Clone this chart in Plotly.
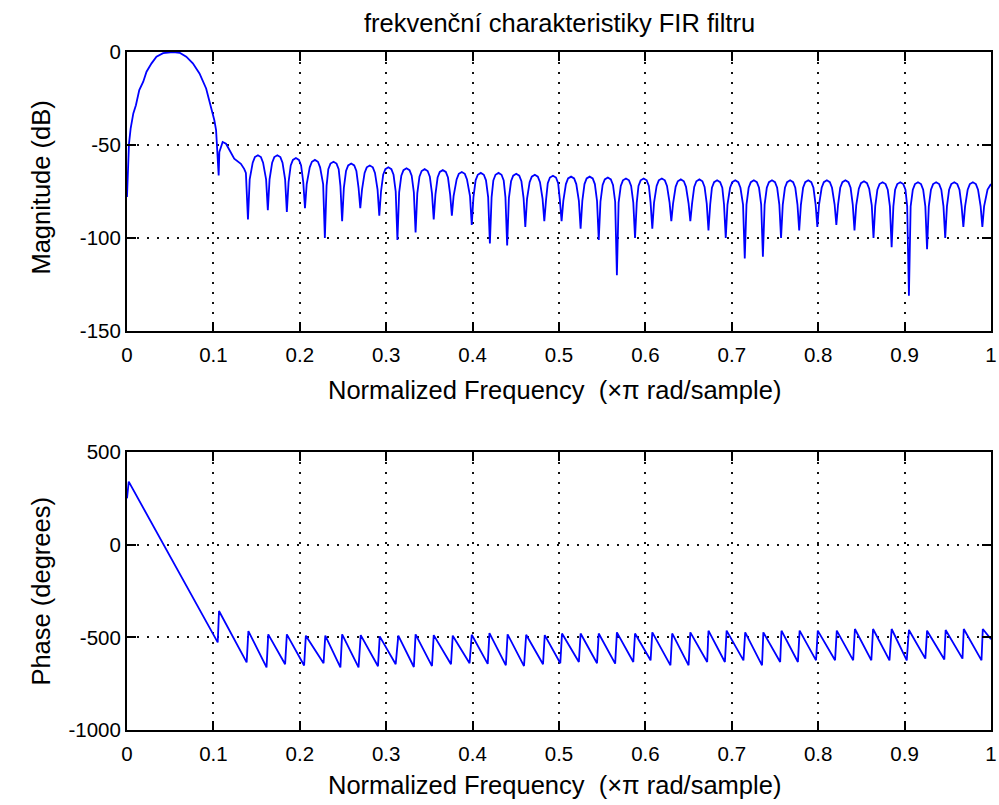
import plotly.graph_objects as go

# ---------------- data ----------------
x_ticks = [0, 0.1, 0.2, 0.3, 0.4, 0.5, 0.6, 0.7, 0.8, 0.9, 1]
x_tick_labels = ["0", "0.1", "0.2", "0.3", "0.4", "0.5", "0.6", "0.7", "0.8", "0.9", "1"]
mag_ticks = [-150, -100, -50, 0]
mag_tick_labels = ["-150", "-100", "-50", "0"]
phase_ticks = [-1000, -500, 0, 500]
phase_tick_labels = ["-1000", "-500", "0", "500"]

title_text = "frekvenční charakteristiky FIR filtru"
x_title = "Normalized Frequency  (\u00d7\u03c0 rad/sample)"
mag_title = "Magnitude (dB)"
phase_title = "Phase (degrees)"

# magnitude response (normalized frequency, dB)
mag_freq = [
    0.0, 0.0023, 0.0042, 0.0073, 0.0103, 0.0142, 0.0188, 0.0226, 0.0284, 0.0341, 0.0418,
    0.0533, 0.0609, 0.0686, 0.0762, 0.0839, 0.0916, 0.0973, 0.1011, 0.1031, 0.1042, 0.1061,
    0.1069, 0.1107, 0.1146, 0.1203, 0.1241, 0.1318, 0.1356, 0.1376,
    0.140, 0.142, 0.1455, 0.148, 0.1515, 0.155, 0.1575, 0.161,
    0.163, 0.165, 0.168, 0.1705, 0.174, 0.1775, 0.180, 0.183,
    0.185, 0.187, 0.1895, 0.192, 0.1955, 0.199, 0.2015, 0.204,
    0.206, 0.208, 0.2115, 0.214, 0.2175, 0.221, 0.2235, 0.227,
    0.229, 0.231, 0.233, 0.2355, 0.239, 0.2425, 0.245, 0.247,
    0.249, 0.251, 0.2535, 0.256, 0.2595, 0.263, 0.2655, 0.268,
    0.270, 0.272, 0.275, 0.2775, 0.281, 0.2845, 0.287, 0.290,
    0.292, 0.294, 0.2965, 0.299, 0.3025, 0.306, 0.3085, 0.311,
    0.313, 0.315, 0.3175, 0.320, 0.3235, 0.327, 0.3295, 0.332,
    0.334, 0.336, 0.3385, 0.341, 0.3445, 0.348, 0.3505, 0.353,
    0.355, 0.357, 0.3595, 0.362, 0.3655, 0.369, 0.3715, 0.374,
    0.376, 0.378, 0.3815, 0.384, 0.3875, 0.391, 0.3935, 0.397,
    0.399, 0.401, 0.4035, 0.406, 0.4095, 0.413, 0.4155, 0.418,
    0.420, 0.422, 0.424, 0.4265, 0.430, 0.4335, 0.436, 0.438,
    0.440, 0.442, 0.4445, 0.447, 0.4505, 0.454, 0.4565, 0.459,
    0.461, 0.463, 0.466, 0.4685, 0.472, 0.4755, 0.478, 0.481,
    0.483, 0.485, 0.487, 0.4895, 0.493, 0.4965, 0.499, 0.501,
    0.503, 0.505, 0.508, 0.5105, 0.514, 0.5175, 0.520, 0.523,
    0.525, 0.527, 0.5295, 0.532, 0.5355, 0.539, 0.5415, 0.544,
    0.546, 0.548, 0.5505, 0.553, 0.5565, 0.560, 0.5625, 0.565,
    0.567, 0.569, 0.5715, 0.574, 0.5775, 0.581, 0.5835, 0.586,
    0.588, 0.590, 0.592, 0.5945, 0.598, 0.6015, 0.604, 0.606,
    0.608, 0.610, 0.613, 0.6155, 0.619, 0.6225, 0.625, 0.628,
    0.630, 0.632, 0.635, 0.6375, 0.641, 0.6445, 0.647, 0.650,
    0.652, 0.654, 0.6565, 0.659, 0.6625, 0.666, 0.6685, 0.671,
    0.673, 0.675, 0.677, 0.6795, 0.683, 0.6865, 0.689, 0.691,
    0.693, 0.695, 0.698, 0.7005, 0.704, 0.7075, 0.710, 0.713,
    0.715, 0.717, 0.7195, 0.722, 0.7255, 0.729, 0.7315, 0.734,
    0.736, 0.738, 0.7405, 0.743, 0.7465, 0.750, 0.7525, 0.755,
    0.757, 0.759, 0.7615, 0.764, 0.7675, 0.771, 0.7735, 0.776,
    0.778, 0.780, 0.7825, 0.785, 0.7885, 0.792, 0.7945, 0.797,
    0.799, 0.801, 0.804, 0.8065, 0.810, 0.8135, 0.816, 0.819,
    0.821, 0.823, 0.8255, 0.828, 0.8315, 0.835, 0.8375, 0.840,
    0.842, 0.844, 0.847, 0.8495, 0.853, 0.8565, 0.859, 0.862,
    0.864, 0.866, 0.8685, 0.871, 0.8745, 0.878, 0.8805, 0.883,
    0.885, 0.887, 0.889, 0.8915, 0.895, 0.8985, 0.901, 0.903,
    0.905, 0.907, 0.9095, 0.912, 0.9155, 0.919, 0.9215, 0.924,
    0.926, 0.928, 0.9305, 0.933, 0.9365, 0.940, 0.9425, 0.945,
    0.947, 0.949, 0.9515, 0.954, 0.9575, 0.961, 0.9635, 0.966,
    0.968, 0.970, 0.973, 0.9755, 0.979, 0.9825, 0.985, 0.988,
    0.990, 0.992, 0.996, 1.0,
]
mag_db = [
    -78, -49.3, -41.2, -33, -28.6, -20.5, -16, -10.6, -6.1, -2.5, -0.6,
    0, -0.4, -2.5, -6.1, -11.5, -19.6, -29.5, -36.7, -42, -53.8, -66.4,
    -53.8, -48.4, -49.3, -54.7, -57.4, -60.1, -62.8, -65,
    -90, -68.5, -59.5, -56.5, -55.5, -56.5, -59.5, -68.5,
    -85, -68.5, -59.5, -56.5, -55.5, -56.5, -59.5, -68.5,
    -86, -70, -61, -58, -57, -58, -61, -70,
    -84, -71, -62, -59, -58, -59, -62, -71,
    -100, -72, -63, -60, -59, -60, -63, -72,
    -91, -73, -64, -61, -60, -61, -64, -73,
    -84, -74, -65, -62, -61, -62, -65, -74,
    -88, -75, -66, -63, -62, -63, -66, -75,
    -101, -75.5, -66.5, -63.5, -62.5, -63.5, -66.5, -75.5,
    -97, -76, -67, -64, -63, -64, -67, -76,
    -90, -76.5, -67.5, -64.5, -63.5, -64.5, -67.5, -76.5,
    -88, -77.5, -68.5, -65.5, -64.5, -65.5, -68.5, -77.5,
    -93, -78, -69, -66, -65, -66, -69, -78,
    -103, -78, -69, -66, -65, -66, -69, -78,
    -104, -78.5, -69.5, -66.5, -65.5, -66.5, -69.5, -78.5,
    -94, -79, -70, -67, -66, -67, -70, -79,
    -91, -79.5, -70.5, -67.5, -66.5, -67.5, -70.5, -79.5,
    -91, -80, -71, -68, -67, -68, -71, -80,
    -95, -80, -71, -68, -67, -68, -71, -80,
    -101, -80.5, -71.5, -68.5, -67.5, -68.5, -71.5, -80.5,
    -120, -81, -72, -69, -68, -69, -72, -81,
    -100, -81, -72, -69, -68, -69, -72, -81,
    -95, -81, -72, -69, -68, -69, -72, -81,
    -91, -81.5, -72.5, -69.5, -68.5, -69.5, -72.5, -81.5,
    -91, -81.5, -72.5, -69.5, -68.5, -69.5, -72.5, -81.5,
    -96, -82, -73, -70, -69, -70, -73, -82,
    -100, -82, -73, -70, -69, -70, -73, -82,
    -111, -82, -73, -70, -69, -70, -73, -82,
    -110, -82, -73, -70, -69, -70, -73, -82,
    -100, -82, -73, -70, -69, -70, -73, -82,
    -96, -82, -73, -70, -69, -70, -73, -82,
    -94, -82, -73, -70, -69, -70, -73, -82,
    -93, -82, -73, -70, -69, -70, -73, -82,
    -96, -82.5, -73.5, -70.5, -69.5, -70.5, -73.5, -82.5,
    -100, -83, -74, -71, -70, -71, -74, -83,
    -105, -83, -74, -71, -70, -71, -74, -83,
    -131, -83, -74, -71, -70, -71, -74, -83,
    -106, -83, -74, -71, -70, -71, -74, -83,
    -100, -83, -74, -71, -70, -71, -74, -83,
    -94, -83, -74, -71, -70, -71, -74, -83,
    -94, -83, -74, -71,
]

# phase response (normalized frequency, degrees)
phase_freq = [
    0.0, 0.002, 0.105, 0.1065, 0.1385, 0.1405, 0.1615, 0.1635, 0.183, 0.185,
    0.205, 0.207, 0.2275, 0.2295, 0.247, 0.249, 0.268, 0.2705, 0.2905, 0.2925,
    0.311, 0.314, 0.332, 0.334, 0.353, 0.355, 0.375, 0.377, 0.3965, 0.399,
    0.4175, 0.4195, 0.4385, 0.4405, 0.4595, 0.462, 0.4815, 0.4835, 0.5015, 0.5035,
    0.523, 0.525, 0.544, 0.546, 0.565, 0.567, 0.586, 0.588, 0.606, 0.608,
    0.629, 0.631, 0.650, 0.652, 0.6715, 0.673, 0.692, 0.694, 0.7135, 0.7155,
    0.735, 0.7365, 0.756, 0.7575, 0.7765, 0.7785, 0.7975, 0.7995, 0.8195, 0.8215,
    0.8405, 0.8425, 0.8615, 0.8635, 0.8825, 0.885, 0.9025, 0.905, 0.924, 0.926,
    0.946, 0.9475, 0.967, 0.9685, 0.989, 0.9905, 1.0,
]
phase_deg = [
    250, 340, -527, -358, -635, -466, -662, -484, -645, -484,
    -652, -491, -640, -491, -662, -484, -662, -488, -656, -495,
    -645, -491, -660, -484, -655, -488, -645, -491, -640, -486,
    -643, -477, -651, -484, -655, -486, -645, -488, -640, -479,
    -633, -479, -640, -479, -642, -473, -633, -479, -624, -473,
    -651, -479, -651, -473, -633, -464, -633, -464, -624, -473,
    -651, -473, -633, -464, -633, -464, -624, -464, -624, -464,
    -624, -455, -624, -455, -624, -455, -624, -460, -615, -464,
    -620, -460, -615, -455, -624, -455, -510,
]

assert len(mag_freq) == len(mag_db)
assert len(phase_freq) == len(phase_deg)

# ---------------- figure ----------------
FONT = "Liberation Sans, Arial, Helvetica, sans-serif"
LINE_COLOR = "#0000ff"

fig = go.Figure()
fig.add_trace(go.Scatter(x=mag_freq, y=mag_db, mode="lines",
                         line=dict(color=LINE_COLOR, width=1.8),
                         xaxis="x", yaxis="y", showlegend=False))
fig.add_trace(go.Scatter(x=phase_freq, y=phase_deg, mode="lines",
                         line=dict(color=LINE_COLOR, width=1.8),
                         xaxis="x2", yaxis="y2", showlegend=False))

axis_common = dict(
    showline=True, linecolor="black", linewidth=2, mirror="ticks",
    ticks="inside", ticklen=9, tickwidth=2, tickcolor="black",
    showgrid=True, gridcolor="#111111", gridwidth=1.6, griddash="2px,8px",
    zeroline=False, tickfont=dict(family=FONT, size=20.5, color="black"),
    ticklabeloverflow="allow",
)

fig.update_layout(
    width=999, height=805,
    margin=dict(l=127, r=2, t=52, b=75),
    paper_bgcolor="white", plot_bgcolor="white",
    font=dict(family=FONT, color="black"),
    xaxis=dict(domain=[0, 1], range=[0, 1], anchor="y", ticklabelstandoff=4,
               tickvals=x_ticks, ticktext=x_tick_labels, **axis_common),
    yaxis=dict(domain=[0.5885, 1], range=[-150, 0], anchor="x",
               tickvals=mag_ticks, ticktext=mag_tick_labels, **axis_common),
    xaxis2=dict(domain=[0, 1], range=[0, 1], anchor="y2", ticklabelstandoff=4,
                tickvals=x_ticks, ticktext=x_tick_labels, **axis_common),
    yaxis2=dict(domain=[0, 0.410], range=[-1000, 500], anchor="x2",
                tickvals=phase_ticks, ticktext=phase_tick_labels, **axis_common),
)

H = 678.0  # plot-area height in px (805 - 52 - 75)


def py(ypx):
    return (730.0 - ypx) / H


def px(xpx):
    return (xpx - 127.0) / 870.0


ann = [
    dict(text=title_text, x=0.5, y=py(23), font=dict(size=25.5)),
    dict(text=x_title, x=px(557), y=py(390), font=dict(size=25.5)),
    dict(text=x_title, x=px(557), y=py(785), font=dict(size=25.5)),
    dict(text=mag_title, x=px(40), y=py(188), font=dict(size=25.5), textangle=-90),
    dict(text=phase_title, x=px(40), y=py(591), font=dict(size=25.5), textangle=-90),
]
for a in ann:
    fig.add_annotation(xref="paper", yref="paper", showarrow=False,
                       xanchor="center", yanchor="middle",
                       font_family=FONT, font_color="black", **a)

fig.write_html("out.html")
